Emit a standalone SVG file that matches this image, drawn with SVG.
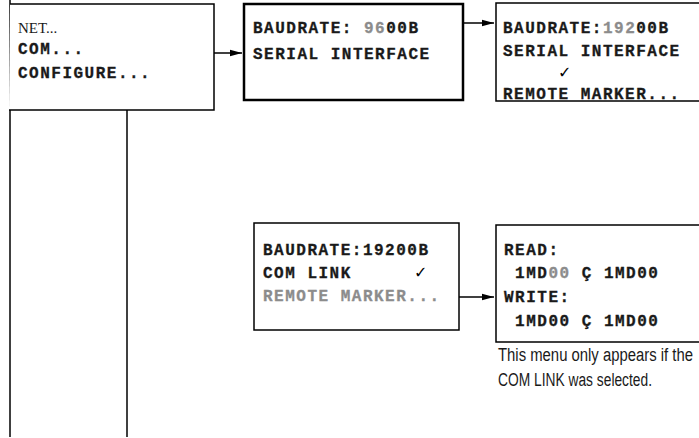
<svg xmlns="http://www.w3.org/2000/svg" width="699" height="438" viewBox="0 0 699 438">
<defs>
<style>
.box{fill:#fff;stroke:#000;stroke-width:1.5}
.thick{stroke-width:2.5}
.m{font-family:"Liberation Mono","Courier New",monospace;font-weight:bold;font-size:16px;letter-spacing:1.5px;fill:#1a1a1a;stroke:#1a1a1a;stroke-width:0.3}
.g{fill:#8c8c8c;stroke:#8c8c8c}
.ck{font-family:"DejaVu Sans",sans-serif;font-size:16px;fill:#000}
.cap{font-family:"Liberation Sans Narrow","Liberation Sans",Arial,sans-serif;font-size:18px;fill:#1a1a1a}
.ln{stroke:#000;stroke-width:1.5;fill:none}
</style>
<marker id="ah" markerWidth="12" markerHeight="8" refX="12" refY="4" orient="auto" markerUnits="userSpaceOnUse">
<path d="M0,0.8 L12,4 L0,7.2 Z" fill="#000"/>
</marker>
</defs>
<g id="connectors">
<line class="ln" x1="10" y1="0" x2="10" y2="437"/>
<line class="ln" x1="127" y1="110" x2="127" y2="437"/>
<line class="ln" x1="214" y1="53" x2="242" y2="53" marker-end="url(#ah)"/>
<line class="ln" x1="463" y1="23" x2="494" y2="23" marker-end="url(#ah)"/>
<line class="ln" x1="459" y1="297" x2="494" y2="297" marker-end="url(#ah)"/>
</g>
<g id="node-main">
<path class="box" d="M10,4 H214 V110 H9"/>
<text x="18" y="33" font-family="Liberation Serif,'Times New Roman',serif" font-size="15" fill="#1a1a1a">NET...</text>
<text class="m" x="18" y="54">COM...</text>
<text class="m" x="18" y="78">CONFIGURE...</text>
</g>
<g id="node-baud9600">
<rect class="box thick" x="244" y="4" width="219" height="96"/>
<text class="m" x="253" y="33">BAUDRATE: <tspan class="g">96</tspan>00B</text>
<text class="m" x="253" y="59">SERIAL INTERFACE</text>
</g>
<g id="node-baud19200">
<path class="box" d="M700,3 H496 V101 H700"/>
<text class="m" x="503" y="33">BAUDRATE:<tspan class="g">192</tspan>00B</text>
<text class="m" x="503" y="56">SERIAL INTERFACE</text>
<text class="ck" x="558" y="78">✓</text>
<text class="m" x="503" y="99">REMOTE MARKER...</text>
</g>
<g id="node-comlink">
<rect class="box" x="254" y="223" width="205" height="107"/>
<text class="m" x="263" y="255">BAUDRATE:19200B</text>
<text class="m" x="263" y="278">COM LINK</text>
<text class="ck" x="414" y="278">✓</text>
<text class="m g" x="263" y="301">REMOTE MARKER...</text>
</g>
<g id="node-readwrite">
<path class="box" d="M700,225 H496 V342 H700"/>
<text class="m" x="504" y="255">READ:</text>
<text class="m" x="504" y="278" xml:space="preserve"> 1MD<tspan class="g">00</tspan> Ç 1MD00</text>
<text class="m" x="504" y="302">WRITE:</text>
<text class="m" x="504" y="326" xml:space="preserve"> 1MD00 Ç 1MD00</text>
</g>
<g id="caption">
<text class="cap" x="498" y="361" textLength="195" lengthAdjust="spacingAndGlyphs">This menu only appears if the</text>
<text class="cap" x="498" y="386" textLength="154" lengthAdjust="spacingAndGlyphs">COM LINK was selected.</text>
</g>
</svg>
